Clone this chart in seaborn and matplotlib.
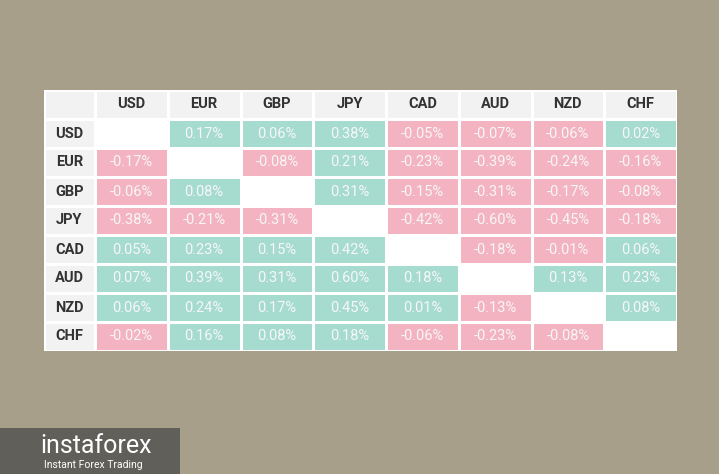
import numpy as np
import matplotlib
matplotlib.use("Agg")
import matplotlib.pyplot as plt
from matplotlib.colors import ListedColormap
from matplotlib.patches import Rectangle
import seaborn as sns

currencies = ["USD", "EUR", "GBP", "JPY", "CAD", "AUD", "NZD", "CHF"]
usd = [None, 0.17, 0.06, 0.38, -0.05, -0.07, -0.06, 0.02]
eur = [-0.17, None, -0.08, 0.21, -0.23, -0.39, -0.24, -0.16]
gbp = [-0.06, 0.08, None, 0.31, -0.15, -0.31, -0.17, -0.08]
jpy = [-0.38, -0.21, -0.31, None, -0.42, -0.60, -0.45, -0.18]
cad = [0.05, 0.23, 0.15, 0.42, None, -0.18, -0.01, 0.06]
aud = [0.07, 0.39, 0.31, 0.60, 0.18, None, 0.13, 0.23]
nzd = [0.06, 0.24, 0.17, 0.45, 0.01, -0.13, None, 0.08]
chf = [-0.02, 0.16, 0.08, 0.18, -0.06, -0.23, -0.08, None]
rows = [usd, eur, gbp, jpy, cad, aud, nzd, chf]

PINK, GREEN, WHITE, HEAD = "#f4b3c0", "#a6dbd0", "#ffffff", "#f2f2f2"
cmap = ListedColormap([PINK, GREEN, WHITE, HEAD])

codes = np.full((9, 8), 3.0)
annot = np.full((9, 8), "", dtype=object)
for j, c in enumerate(currencies):
    annot[0, j] = c
for i, r in enumerate(rows):
    for j, v in enumerate(r):
        if v is None:
            codes[i + 1, j] = 2
        else:
            codes[i + 1, j] = 1 if v >= 0 else 0
            annot[i + 1, j] = f"{v:.2f}%"

W, H = 719, 474
fig = plt.figure(figsize=(W / 100, H / 100), dpi=100)
fig.patch.set_facecolor("#a89f8a")
plt.rcParams["font.family"] = ["Roboto", "DejaVu Sans"]

x0, x1, xs = 44 / W, 677 / W, 95 / W
ytop, ybot = 1 - 90 / H, 1 - 351 / H
axm = fig.add_axes([xs, ybot, x1 - xs, ytop - ybot])
axl = fig.add_axes([x0, ybot, xs - x0, ytop - ybot])

sns.heatmap(codes, ax=axm, cmap=cmap, vmin=-0.5, vmax=3.5, cbar=False,
            linewidths=1, linecolor="white", xticklabels=False, yticklabels=False)
for i in range(9):
    for j in range(8):
        if i == 0:
            axm.text(j + 0.5, i + 0.5, annot[i, j], ha="center", va="center",
                     fontsize=10.5, fontweight="bold", color="#333333")
        else:
            axm.text(j + 0.5, i + 0.5, annot[i, j], ha="center", va="center",
                     fontsize=10.5, color="#f7f7f7")

left = np.full((9, 1), 3.0)
sns.heatmap(left, ax=axl, cmap=cmap, vmin=-0.5, vmax=3.5, cbar=False,
            linewidths=1, linecolor="white", xticklabels=False, yticklabels=False)
for i, c in enumerate(currencies):
    axl.text(0.5, i + 1.5, c, ha="center", va="center", fontsize=10.5,
             fontweight="bold", color="#333333")

fig.patches.append(Rectangle((0, 0), 180 / W, 46 / H, transform=fig.transFigure,
                             facecolor="#4a4a4a", alpha=0.75, zorder=0))
fig.text(40 / W, 1 - 446 / H, "instaforex", fontsize=18, color="white", va="center")
fig.text(44 / W, 1 - 465 / H, "Instant Forex Trading", fontsize=7.5, color="white", va="center")

fig.savefig("out.png", dpi=100, facecolor=fig.get_facecolor())
